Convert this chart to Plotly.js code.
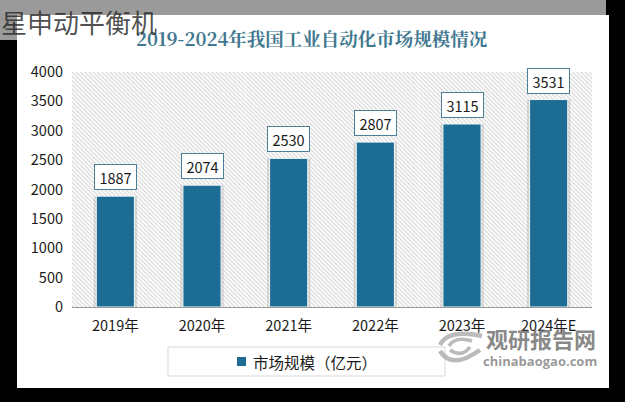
<!DOCTYPE html>
<html>
<head>
<meta charset="utf-8">
<script src="https://cdn.plot.ly/plotly-3.0.1.min.js"></script>
<style>html,body{margin:0;padding:0;background:#000;overflow:hidden}#c{width:625px;height:402px}</style>
</head>
<body>
<div id="c"></div>
<script>
var categories = ['2019年','2020年','2021年','2022年','2023年','2024年E'];
var marketSize = [1887,2074,2530,2807,3115,3531];
var seriesName = '市场规模（亿元）';
var chartTitle = '2019-2024年我国工业自动化市场规模情况';
var overlayText = '星申动平衡机';
var yTicks = [0,500,1000,1500,2000,2500,3000,3500,4000];
var yMax = 4000;

var W=625,H=402,L=72,R=592,T=72,B=307;
function px(x){return (x-L)/(R-L);}
function py(y){return (B-y)/(B-T);}
var cjk='"Noto Sans CJK SC","Noto Sans",sans-serif';
var ink='#1a1a1a', teal='#1d6c94';

var hatch={type:'bar',x:categories,y:categories.map(function(){return yMax;}),width:1,
  marker:{color:'#ffffff',line:{width:0},pattern:{shape:'\\',fgcolor:'#d2d2d2',bgcolor:'#ffffff',size:3,solidity:0.35}},
  showlegend:false,hoverinfo:'skip'};
var shadow={type:'bar',x:categories,y:marketSize,width:0.5,
  marker:{color:'rgba(150,150,150,0.3)',line:{width:0}},showlegend:false,hoverinfo:'skip'};
var bars={type:'bar',x:categories,y:marketSize,width:0.44,name:seriesName,showlegend:false,
  marker:{color:teal,line:{width:1,color:'#f4f8fa'}}};

function note(x,y,text,font,extra){
  var a={xref:'paper',yref:'paper',x:px(x),y:py(y),text:text,showarrow:false,xanchor:'center',yanchor:'middle',font:font};
  for(var k in (extra||{})){a[k]=extra[k];}
  return a;
}
var annotations=categories.map(function(c,i){
  return {x:c,y:marketSize[i],xref:'x',yref:'y',text:String(marketSize[i]),showarrow:false,
    xanchor:'center',yanchor:'bottom',yshift:6,bgcolor:'#ffffff',bordercolor:'#4d7f98',borderwidth:1,borderpad:2,
    font:{family:cjk,size:14.5,color:ink},width:37,height:20};
});
annotations.push(note(312,38,'<b>'+chartTitle+'</b>',{family:'"Noto Serif CJK SC","Noto Sans CJK SC",sans-serif',size:18.5,color:'#41788f'}));
annotations.push(note(0,21,overlayText,{family:cjk,size:26,color:'rgba(40,40,40,0.82)'},{xanchor:'left',borderpad:0}));
annotations.push(note(251,361.5,seriesName,{family:cjk,size:15.5,color:ink},{xanchor:'left'}));
annotations.push(note(541,338,'<b>观研报告网</b>',{family:cjk,size:22,color:'rgba(105,105,105,0.8)'}));
annotations.push(note(540,361,'<b>chinabaogao.com</b>',{family:'"Open Sans",sans-serif',size:13,color:'rgba(135,135,135,0.85)'}));

function P(x,y){return px(x).toFixed(4)+','+py(y).toFixed(4);}
function arc(pts,w,col){
  return {type:'path',xref:'paper',yref:'paper',layer:'above',fillcolor:'rgba(0,0,0,0)',line:{width:w,color:col},
    path:'M'+P(pts[0],pts[1])+' Q'+P(pts[2],pts[3])+' '+P(pts[4],pts[5])};
}
var logoGrey='rgba(170,170,170,0.8)';
var shapes=[
  {type:'rect',xref:'paper',yref:'paper',x0:px(17),x1:px(609),y0:py(15),y1:py(388),fillcolor:'#ffffff',line:{width:0},layer:'below'},
  {type:'rect',xref:'paper',yref:'paper',x0:px(0),x1:px(606),y0:py(0),y1:py(15),fillcolor:'#9a9a9a',line:{width:0},layer:'below'},
  {type:'rect',xref:'paper',yref:'paper',x0:px(0),x1:px(17),y0:py(15),y1:py(40),fillcolor:'#9a9a9a',line:{width:0},layer:'below'},
  {type:'rect',xref:'paper',yref:'paper',x0:px(168),x1:px(445),y0:py(347),y1:py(376),fillcolor:'#ffffff',line:{width:1,color:'#d9d9d9'},layer:'below'},
  {type:'rect',xref:'paper',yref:'paper',x0:px(237),x1:px(246),y0:py(357),y1:py(366),fillcolor:teal,line:{width:0},layer:'above'},
  arc([440,345,448,329,482,336],4.5,logoGrey),
  arc([440,351,452,370,480,350],4.5,logoGrey),
  arc([449,346,455,336,472,341],3.5,logoGrey),
  arc([450,350,462,358,470,347],3.5,logoGrey)
];

var layout={width:W,height:H,margin:{l:L,r:W-R,t:T,b:H-B,pad:0},
  paper_bgcolor:'#000000',plot_bgcolor:'#ffffff',barmode:'overlay',showlegend:false,
  title:{text:''},
  xaxis:{type:'category',categoryorder:'array',categoryarray:categories,range:[-0.5,5.5],
    showgrid:false,showline:true,linecolor:'#9a9a9a',linewidth:1,ticks:'',zeroline:false,ticklabelstandoff:6,
    tickfont:{family:cjk,size:14.5,color:ink},automargin:false},
  yaxis:{range:[0,yMax],tickvals:yTicks,ticktext:yTicks.map(String),showgrid:false,showline:false,zeroline:false,ticks:'',ticklabelstandoff:8,
    tickfont:{family:cjk,size:14.5,color:ink},automargin:false},
  annotations:annotations,shapes:shapes};
Plotly.newPlot('c',[hatch,shadow,bars],layout,{displayModeBar:false,staticPlot:true});
</script>
</body>
</html>
